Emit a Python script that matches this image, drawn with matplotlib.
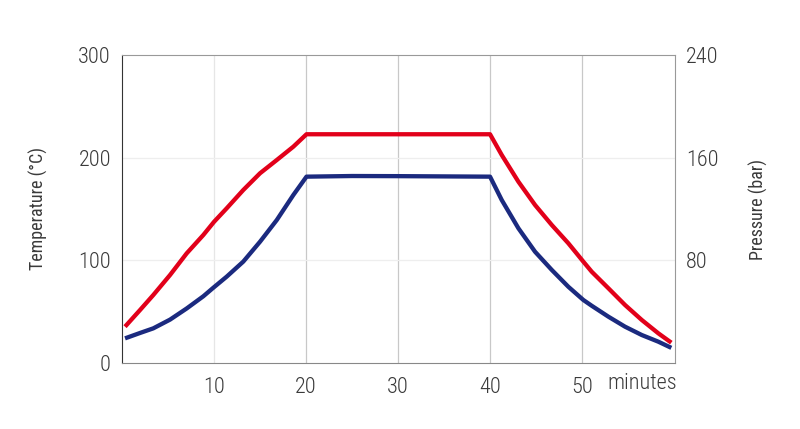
import matplotlib
matplotlib.use("Agg")
import matplotlib.pyplot as plt
from matplotlib import font_manager

# pick a narrow face if one is installed
names = set(f.name for f in font_manager.fontManager.ttflist)
fam = 'DejaVu Sans'
for n in ['Roboto Condensed', 'Liberation Sans Narrow', 'Open Sans Condensed', 'Roboto']:
    if n in names:
        fam = n
        break
plt.rcParams['font.family'] = [fam, 'DejaVu Sans']
plt.rcParams['font.weight'] = 'light'
if fam in ('DejaVu Sans', 'Roboto'):
    plt.rcParams['font.stretch'] = 'condensed'

# temperature curve (left axis, degC)
temp_t = [0.33, 1.96, 3.40, 5.22, 7.03, 8.84, 10.0, 11.38, 13.18, 15.0,
          16.82, 18.62, 20.05, 30.0, 40.0, 41.27, 43.08, 44.89, 46.71,
          48.51, 50.14, 51.05, 52.86, 54.67, 56.49, 58.29, 59.7]
temp_v = [35.4, 51.6, 66.2, 85.7, 106.8, 124.7, 137.5, 150.7, 168.5, 184.8,
          197.7, 210.7, 222.8, 222.8, 222.8, 202.6, 176.6, 153.9, 134.4,
          116.6, 98.7, 88.9, 72.8, 56.5, 41.9, 28.9, 19.8]

# pressure curve (right axis, bar)
pres_t = [0.33, 1.96, 3.40, 5.22, 7.03, 8.84, 9.9, 11.38, 13.18, 15.0,
          16.82, 18.62, 20.05, 25.0, 30.0, 35.0, 40.0, 41.27, 43.08, 44.89,
          46.71, 48.51, 50.14, 51.05, 52.86, 54.67, 56.49, 58.29, 59.7]
pres_v = [19.2, 23.4, 27.0, 33.8, 42.5, 52.0, 58.5, 67.3, 79.0, 94.5,
          111.4, 130.9, 145.2, 145.7, 145.6, 145.4, 145.2, 127.0, 105.0, 86.7,
          72.5, 59.4, 49.1, 44.6, 36.1, 28.3, 21.8, 16.6, 11.8]

x_ticks = [10, 20, 30, 40, 50]
left_ticks = [0, 100, 200, 300]
right_ticks = [80, 160, 240]

txt = '#3a3a3a'

fig = plt.figure(figsize=(8, 4.29), dpi=100)
ax = fig.add_axes([122 / 800, 1 - 363 / 429, 553 / 800, 308 / 429])
ax2 = ax.twinx()

ax.set_xlim(0, 60.1)
ax.set_ylim(0, 300)
ax2.set_ylim(0, 240)

for v in x_ticks:
    c = '#e6e6e6' if v == 10 else '#c8c8c8'
    ax.axvline(v, color=c, lw=0.9, zorder=0)
for v in [100, 200]:
    ax.axhline(v, color='#eeeeee', lw=0.9, zorder=0)

ax.plot(temp_t, temp_v, color='#e2001a', lw=3.1, solid_capstyle='butt',
        solid_joinstyle='round', zorder=3)
ax2.plot(pres_t, pres_v, color='#1b2a7f', lw=3.1, solid_capstyle='butt',
         solid_joinstyle='round', zorder=3)

ax.set_xticks(x_ticks)
ax.set_yticks(left_ticks)
ax2.set_yticks(right_ticks)
for a in (ax, ax2):
    a.tick_params(length=0, labelsize=16, colors=txt, pad=8)
ax.tick_params(axis='x', pad=10)

ax.set_ylabel('Temperature (°C)', fontsize=13, color=txt, labelpad=22)
ax2.set_ylabel('Pressure (bar)', fontsize=13, color=txt, labelpad=22)
ax.text(60.3, -10, 'minutes', ha='right', va='top', fontsize=16, color=txt)

ax.spines['left'].set_color('#333333')
ax.spines['bottom'].set_color('#888888')
for s in ('top', 'right'):
    ax.spines[s].set_color('#999999')
for s in ax2.spines.values():
    s.set_visible(False)

fig.savefig('out.png', dpi=100)
